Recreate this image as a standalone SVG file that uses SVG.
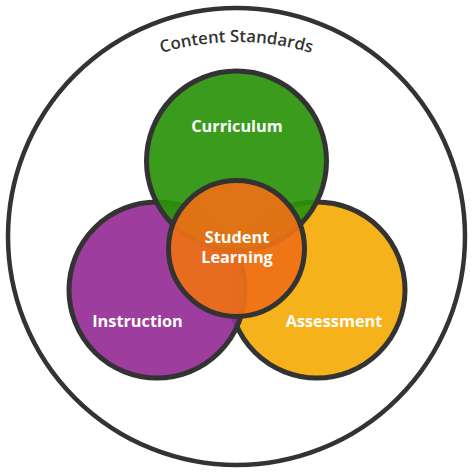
<svg xmlns="http://www.w3.org/2000/svg" width="474" height="474" viewBox="0 0 474 474">
  <style>
    .ring { fill: none; stroke: #333333; stroke-width: 4.5; }
    .set { stroke: #333333; stroke-width: 5; fill-opacity: 0.92; }
    .lbl { font-family: "Open Sans", "Liberation Sans", sans-serif; font-weight: 700; font-size: 16.3px; fill: #ffffff; text-anchor: middle; }
    .title { font-family: "Open Sans", "Liberation Sans", sans-serif; font-weight: 600; font-size: 16.8px; fill: #333333; }
  </style>
  <defs>
    <path id="arc" d="M 86.5 89.6 A 260 260 0 0 1 386.5 89.6"/>
  </defs>
  <rect width="474" height="474" fill="#ffffff"/>
  <g id="content-standards">
    <circle class="ring" cx="236.5" cy="236.5" r="228.5"/>
    <text class="title"><textPath href="#arc" startOffset="50%" text-anchor="middle">Content Standards</textPath></text>
  </g>
  <g id="assessment">
    <circle class="set" cx="317" cy="290" r="88" fill="#f4ab06"/>
    <text class="lbl" x="334" y="327">Assessment</text>
  </g>
  <g id="instruction">
    <circle class="set" cx="157" cy="290" r="88" fill="#952c95"/>
    <text class="lbl" x="137.5" y="327">Instruction</text>
  </g>
  <g id="curriculum">
    <circle class="set" cx="236.5" cy="161" r="90" fill="#2a9209"/>
    <text class="lbl" x="237" y="132">Curriculum</text>
  </g>
  <g id="student-learning">
    <circle class="set" cx="236.5" cy="248.5" r="68" fill="#ee7016"/>
    <text class="lbl" x="237" y="243">Student</text>
    <text class="lbl" x="237" y="263">Learning</text>
  </g>
  <g id="connectors"/>
</svg>
